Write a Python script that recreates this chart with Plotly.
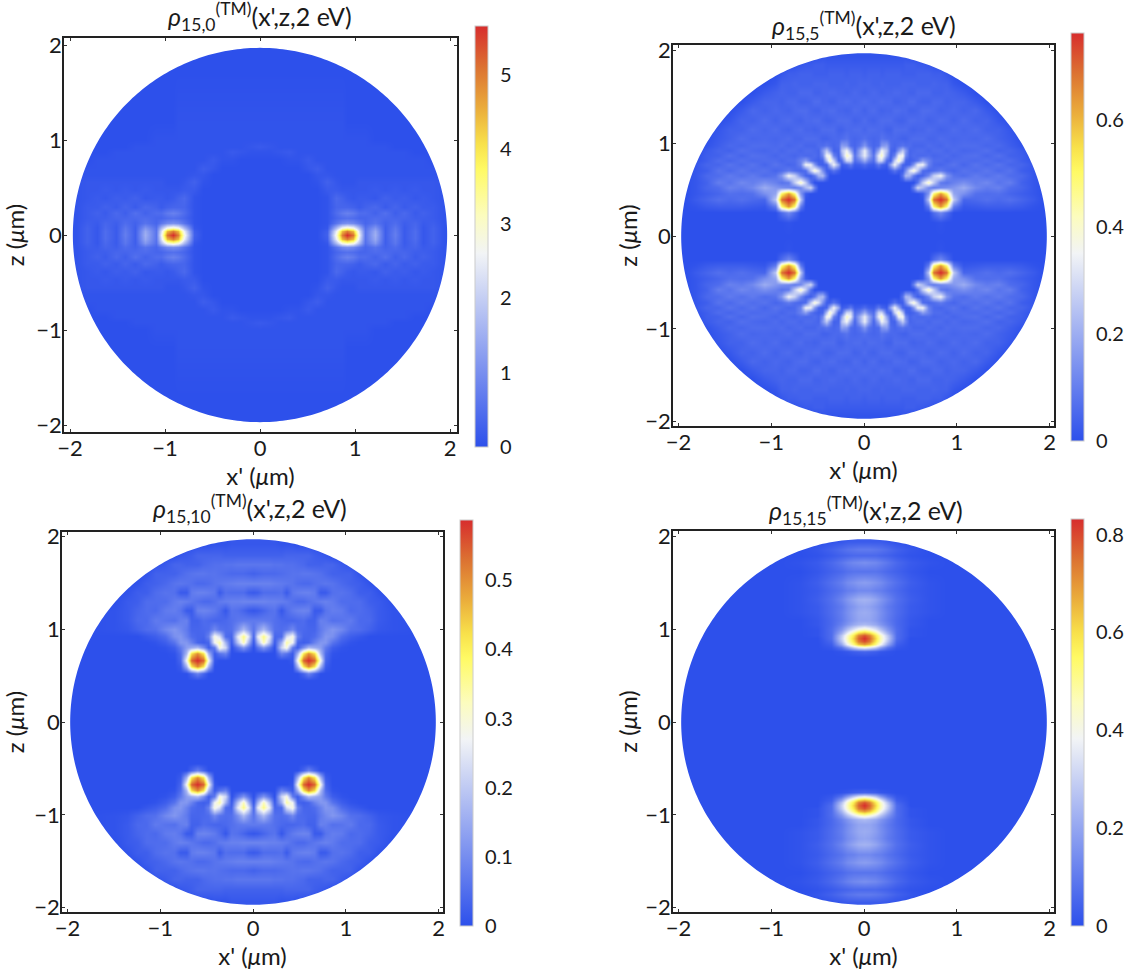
import numpy as np
import plotly.graph_objects as go

TITLES = ["15,0", "15,5", "15,10", "15,15"]
MAXIMA = [5.66, 0.763, 0.587, 0.832]
CB_TICKS = [[0, 1, 2, 3, 4, 5], [0, 0.2, 0.4, 0.6], [0, 0.1, 0.2, 0.3, 0.4, 0.5], [0, 0.2, 0.4, 0.6, 0.8]]

# Values are percent of each panel's maximum, read from one quadrant (x'>=0, z>=0).
P1_X = [0, .1, .2, .3, .4, .5, .6, .7, .8, .86, .92, .98, 1.04, 1.1, 1.21, 1.32, 1.42, 1.52, 1.63, 1.72, 1.82, 1.933]
P1_Z = [0, .04, .08, .13, .18, .23, .3, .39, .47, .56, .63, .7, .79, .87, .93, 1.0, 1.2, 1.727]
P1_V = [
 [0,0,0,0,0,0,0,5,50,88,100,90,45,10,27,4,13,3,8,2,5,1],
 [0,0,0,0,0,0,0,4,44,78,88,78,40,10,25,4,12,3,8,2,5,1],
 [0,0,0,0,0,0,0,2,30,50,56,50,30,9,20,4,11,3,7,2,5,1],
 [0,0,0,0,0,0,0,1,10,16,18,16,11,6,10,5,8,4,6,3,4,1],
 [0,0,0,0,0,0,0,1,6,8,9,8,6,6,8,7,6,6,4,4,3,1],
 [0,0,0,0,0,0,0,1,8,12,14,12,8,8,5,9,4,7,3,5,3,1],
 [0,0,0,0,0,0,0,1,6,6,6,5,3,5,7,3,6,3,5,3,3,1],
 [0,0,0,0,0,0,0,1,7,5,3,2,3,3,2,5,3,4,2,3,2,1],
 [0,0,0,0,0,0,0,3,3,2,2,2,2,2,3,2,3,2,3,2,2,1],
 [0,0,0,0,0,0,1,5,2,1,1,1,2,2,2,2,2,2,2,2,2,1],
 [0,0,0,0,0,0,2,2,1,1,1,1,1,1,1,1,1,1,1,1,1,1],
 [0,0,0,0,0,2,4,1,1,1,1,1,1,1,1,1,1,1,1,1,1,0],
 [0,0,0,1,1,3,1,1,1,1,1,1,1,1,1,1,1,1,1,1,0,0],
 [1,1,2,3,1,1,1,1,1,1,1,1,1,1,1,1,1,1,0,0,0,0],
 [3,2,1,1,1,1,1,1,1,1,1,1,1,1,1,1,0,0,0,0,0,0],
 [1,1,1,1,1,1,1,1,1,1,1,1,1,1,0,0,0,0,0,0,0,0],
 [1,1,1,1,1,1,1,1,1,1,0,0,0,0,0,0,0,0,0,0,0,0],
 [0,0,0,0,0,0,0,0,0,0,0,0,0,0,0,0,0,0,0,0,0,0],
]

P2_X = [0, .05, .1, .15, .19, .24, .28, .33, .37, .41, .45, .49, .53, .58, .63, .69, .75, .82, .89, .96, 1.07, 1.2, 1.32, 1.45, 1.57, 1.7, 1.82, 1.933]
P2_Z = [0, .15, .25, .32, .39, .46, .52, .58, .65, .71, .77, .82, .87, .92, .98, 1.05, 1.15, 1.25, 1.35, 1.45, 1.55, 1.65, 1.75, 1.85, 1.943]
P2_V = [
 [0,0,0,0,0,0,0,0,0,0,0,0,0,0,0,0,0,0,0,0,0,0,0,0,0,0,0,0],
 [0,0,0,0,0,0,0,0,0,0,0,0,0,0,0,0,0,1,0,0,0,0,0,0,0,0,0,0],
 [0,0,0,0,0,0,0,0,0,0,0,0,0,0,0,0,8,16,8,0,0,0,0,0,0,0,0,0],
 [0,0,0,0,0,0,0,0,0,0,0,0,0,0,0,12,64,84,64,12,2,3,4,4,4,3,1,0],
 [0,0,0,0,0,0,0,0,0,0,0,0,0,0,1,34,90,100,90,34,6,7,9,7,9,6,3,0],
 [0,0,0,0,0,0,0,0,0,0,0,0,0,0,3,20,64,84,66,24,18,9,8,9,6,4,2,0],
 [0,0,0,0,0,0,0,0,0,0,0,0,14,38,30,16,12,16,18,20,26,16,12,14,8,6,2,0],
 [0,0,0,0,0,0,0,0,0,0,0,0,0,10,35,55,35,12,10,14,18,13,16,10,13,5,2,0],
 [0,0,0,0,0,0,0,0,0,10,30,28,12,4,6,16,36,46,20,10,8,12,9,12,8,7,2,0],
 [0,0,0,0,0,0,4,10,4,4,18,40,52,34,8,6,8,12,8,6,10,8,11,7,10,4,2,0],
 [8,4,3,12,6,3,24,46,26,6,4,6,20,44,46,14,7,6,8,10,6,10,7,10,6,6,2,0],
 [26,14,8,38,38,8,5,36,54,32,6,4,6,10,22,14,8,8,6,8,8,7,9,6,8,4,1,0],
 [44,26,10,44,54,24,5,14,46,48,16,6,8,7,7,8,6,7,8,6,8,9,6,9,5,4,0,0],
 [44,24,6,26,46,32,6,5,20,34,20,6,7,8,8,6,8,8,6,8,6,7,9,5,6,3,0,0],
 [20,10,6,8,20,22,8,6,8,10,8,8,6,6,6,8,7,6,8,7,8,8,6,7,4,1,0,0],
 [9,7,6,7,10,8,7,7,6,5,5,7,8,8,8,6,6,8,7,6,7,6,8,5,3,0,0,0],
 [6,8,8,7,7,5,5,8,8,8,8,6,5,6,6,8,7,5,6,8,6,8,5,5,2,0,0,0],
 [8,6,5,7,8,8,8,6,5,5,6,8,8,7,7,5,6,8,7,5,8,5,6,2,0,0,0,0],
 [5,7,8,6,5,6,6,8,8,7,7,5,5,6,8,8,7,5,6,7,5,7,3,0,0,0,0,0],
 [8,7,6,7,8,7,7,5,5,6,6,8,8,6,5,5,7,7,5,6,6,3,0,0,0,0,0,0],
 [5,6,7,6,5,6,6,7,7,6,6,5,5,7,7,7,5,5,6,5,3,0,0,0,0,0,0,0],
 [6,6,5,5,6,5,5,5,5,6,6,6,6,5,5,5,6,5,5,2,0,0,0,0,0,0,0,0],
 [4,5,5,5,4,5,5,5,5,4,4,4,4,5,5,5,4,4,2,0,0,0,0,0,0,0,0,0],
 [3,3,3,3,3,3,3,3,3,3,4,4,4,3,3,2,1,0,0,0,0,0,0,0,0,0,0,0],
 [1,1,1,1,1,1,1,1,1,1,1,0,0,0,0,0,0,0,0,0,0,0,0,0,0,0,0,0],
]

P3_X = [0, .05, .11, .17, .23, .3, .36, .42, .48, .54, .6, .66, .72, .78, .85, .95, 1.05, 1.15, 1.25, 1.35, 1.5, 1.827]
P3_Z = [0, .45, .52, .6, .67, .74, .8, .86, .92, 1.0, 1.1, 1.2, 1.3, 1.4, 1.5, 1.6, 1.7, 1.8, 1.927]
P3_V = [
 [0,0,0,0,0,0,0,0,0,0,0,0,0,0,0,0,0,0,0,0,0,0],
 [0,0,0,0,0,0,0,0,0,0,0,0,0,0,0,0,0,0,0,0,0,0],
 [0,0,0,0,0,0,0,0,0,6,14,6,0,0,0,0,0,0,0,0,0,0],
 [0,0,0,0,0,0,0,0,28,70,86,70,28,3,0,0,0,0,0,0,0,0],
 [0,0,0,0,0,0,0,2,48,92,100,92,48,6,0,0,0,0,0,0,0,0],
 [0,0,0,0,0,14,10,3,28,70,86,72,30,8,1,0,0,0,0,0,0,0],
 [0,10,20,10,0,38,50,12,4,18,30,26,22,12,4,1,0,0,0,0,0,0],
 [2,28,56,32,3,28,58,46,6,4,6,14,20,20,10,4,1,0,0,0,0,0],
 [6,42,62,42,6,8,40,50,14,6,6,8,14,20,18,8,4,2,0,0,0,0],
 [10,20,30,18,9,8,10,16,8,7,6,6,12,16,20,16,9,8,5,2,1,0],
 [12,12,12,11,9,7,6,6,7,8,5,5,14,13,9,10,12,7,7,3,1,0],
 [2,3,6,9,10,2,8,12,14,15,14,3,3,10,13,12,7,8,6,3,1,0],
 [15,15,15,14,14,13,12,9,7,7,9,11,13,14,12,8,8,8,4,3,0,0],
 [3,4,8,8,8,9,3,11,13,14,14,12,3,3,9,10,8,4,4,1,0,0],
 [14,14,14,14,13,12,11,10,8,7,7,9,10,11,10,7,5,4,1,0,0,0],
 [5,6,7,7,7,8,9,10,10,11,11,10,9,7,5,5,5,1,0,0,0,0],
 [11,11,11,11,10,10,9,9,8,7,5,5,5,6,6,3,1,0,0,0,0,0],
 [5,5,5,5,5,5,6,6,6,6,6,4,3,2,0,0,0,0,0,0,0,0],
 [2,2,2,2,2,1,1,1,0,0,0,0,0,0,0,0,0,0,0,0,0,0],
]

P4_X = [0, .06, .12, .18, .25, .35, .5, .7, .9, 1.2, 1.727]
P4_Z = [0, .7, .76, .8, .84, .87, .9, .93, .96, 1.0, 1.05, 1.1, 1.18, 1.25, 1.32, 1.42, 1.51, 1.62, 1.72, 1.8, 1.86, 1.947]
P4_V = [
 [0,0,0,0,0,0,0,0,0,0,0],
 [0,0,0,0,0,0,0,0,0,0,0],
 [6,5,4,2,1,0,0,0,0,0,0],
 [46,42,34,22,10,2,0,0,0,0,0],
 [82,76,62,46,24,4,0,0,0,0,0],
 [95,88,70,54,32,6,0,0,0,0,0],
 [100,92,74,56,36,8,0,0,0,0,0],
 [95,88,70,54,34,8,1,0,0,0,0],
 [82,76,62,46,28,8,1,0,0,0,0],
 [55,50,42,32,20,8,1,0,0,0,0],
 [30,28,25,20,14,7,2,0,0,0,0],
 [24,24,21,17,12,7,2,0,0,0,0],
 [26,25,22,18,13,8,3,1,0,0,0],
 [24,23,20,17,12,8,3,1,0,0,0],
 [28,27,24,20,15,9,4,1,0,0,0],
 [16,16,14,13,10,7,3,1,0,0,0],
 [22,21,19,17,13,9,4,1,0,0,0],
 [10,10,10,9,7,5,2,0,0,0,0],
 [18,17,16,14,11,7,3,1,0,0,0],
 [7,7,7,6,5,3,1,0,0,0,0],
 [12,12,11,10,8,5,2,0,0,0,0],
 [3,3,3,3,2,1,0,0,0,0,0],
]

X_NODES = [P1_X, P2_X, P3_X, P4_X]
Z_NODES = [P1_Z, P2_Z, P3_Z, P4_Z]
VALUES = [P1_V, P2_V, P3_V, P4_V]

W, H = 1129, 971
# pixel layout: frame left, right, top, bottom, centre x, centre y, px per um, colourbar left, top, bottom
LAYOUT = [
    (64, 457, 38, 432, 260, 235, 95.0, 475, 26, 447),
    (673, 1054, 45, 426, 864, 236, 92.8, 1071, 33, 441),
    (62, 443, 532, 912, 253, 722, 92.8, 460, 520, 926),
    (673, 1054, 531, 912, 864, 722, 92.8, 1071, 519, 926),
]
TITLE_POS = [(260, 17), (864, 25), (250, 509), (866, 510)]
Y_STANDOFF = [6, 1, 6, 1]
CIRCLE_R = 1.97
FONT = "Lato"
INK = "#1a1a1a"
COLORSCALE = [
    [0, "rgb(45,80,235)"], [0.46, "rgb(242,244,246)"], [0.55, "rgb(252,252,190)"],
    [0.66, "rgb(255,250,100)"], [0.72, "rgb(248,225,75)"], [0.8, "rgb(235,175,60)"],
    [0.9, "rgb(220,115,50)"], [1, "rgb(215,45,45)"],
]

fig = go.Figure()
shapes, annotations = [], []
theta = np.linspace(0, 2 * np.pi, 361)

for i, (L, R, T, B, cx, cy, s, cbl, cbt, cbb) in enumerate(LAYOUT):
    xn = np.array(X_NODES[i])
    zn = np.array(Z_NODES[i])
    q = np.array(VALUES[i], dtype=float) / 100 * MAXIMA[i]
    full_x = np.concatenate([-xn[:0:-1], xn])
    full_y = np.concatenate([-zn[:0:-1], zn])
    right = np.hstack([q[:, :0:-1], q])
    full = np.vstack([right[:0:-1], right])
    n = "" if i == 0 else str(i + 1)
    fig.add_trace(go.Heatmap(
        x=full_x, y=full_y, z=full, xaxis="x" + n, yaxis="y" + n, zsmooth="best",
        zmin=0, zmax=MAXIMA[i], colorscale=COLORSCALE, hoverinfo="skip",
        colorbar=dict(
            x=cbl / W, xanchor="left", xpad=0, ypad=0, thickness=13, thicknessmode="pixels",
            len=cbb - cbt, lenmode="pixels", y=1 - cbb / H, yanchor="bottom",
            tickvals=CB_TICKS[i], ticktext=[str(t) for t in CB_TICKS[i]], ticks="outside", ticklen=8,
            tickcolor="rgba(255,255,255,0)", tickwidth=1, outlinecolor="#cccccc", outlinewidth=1,
            tickfont=dict(family=FONT, size=20, color=INK),
        ),
    ))
    ax = dict(
        showgrid=False, zeroline=False, showline=True, mirror="ticks", linecolor="#222222", linewidth=1.5,
        ticks="inside", ticklen=3, tickcolor="#333333", tickvals=[-2, -1, 0, 1, 2],
        tickfont=dict(family=FONT, size=22, color=INK), ticklabelstandoff=-4,
    )
    x0, x1 = (L - cx) / s, (R - cx) / s
    y0, y1 = (cy - B) / s, (cy - T) / s
    fig.layout["xaxis" + n] = dict(
        ax, domain=[L / W, R / W], range=[x0, x1], anchor="y" + n,
        title=dict(text="x' (<i>μ</i>m)", standoff=0, font=dict(family=FONT, size=24, color=INK)),
    )
    fig.layout["yaxis" + n] = dict(
        ax, domain=[1 - B / H, 1 - T / H], range=[y0, y1], anchor="x" + n,
        title=dict(text="z (<i>μ</i>m)", standoff=Y_STANDOFF[i], font=dict(family=FONT, size=24, color=INK)),
    )
    ox, oy = 2.01, 2.01
    path = f"M{-ox},{-oy} L{ox},{-oy} L{ox},{oy} L{-ox},{oy} Z M" + " L".join(
        f"{CIRCLE_R * np.cos(t):.4f},{CIRCLE_R * np.sin(t):.4f}" for t in theta) + " Z"
    shapes.append(dict(type="path", path=path, xref="x" + n, yref="y" + n, fillcolor="white",
                       fillrule="evenodd", line=dict(width=0), layer="above"))
    annotations.append(dict(
        text=f"<i>ρ</i><sub>{TITLES[i]}</sub><sup>(TM)</sup>(x',z,2 eV)",
        xref="paper", yref="paper", x=TITLE_POS[i][0] / W, y=1 - TITLE_POS[i][1] / H,
        xanchor="center", yanchor="middle", showarrow=False,
        font=dict(family=FONT, size=25, color=INK),
    ))

fig.update_layout(
    width=W, height=H, autosize=False, margin=dict(l=0, r=0, t=0, b=0, autoexpand=False),
    paper_bgcolor="white", plot_bgcolor="white", showlegend=False,
    shapes=shapes, annotations=annotations,
)
fig.write_html("out.html", config=dict(displayModeBar=False),
               post_script="document.body.style.margin='0';document.body.style.overflow='hidden';")
